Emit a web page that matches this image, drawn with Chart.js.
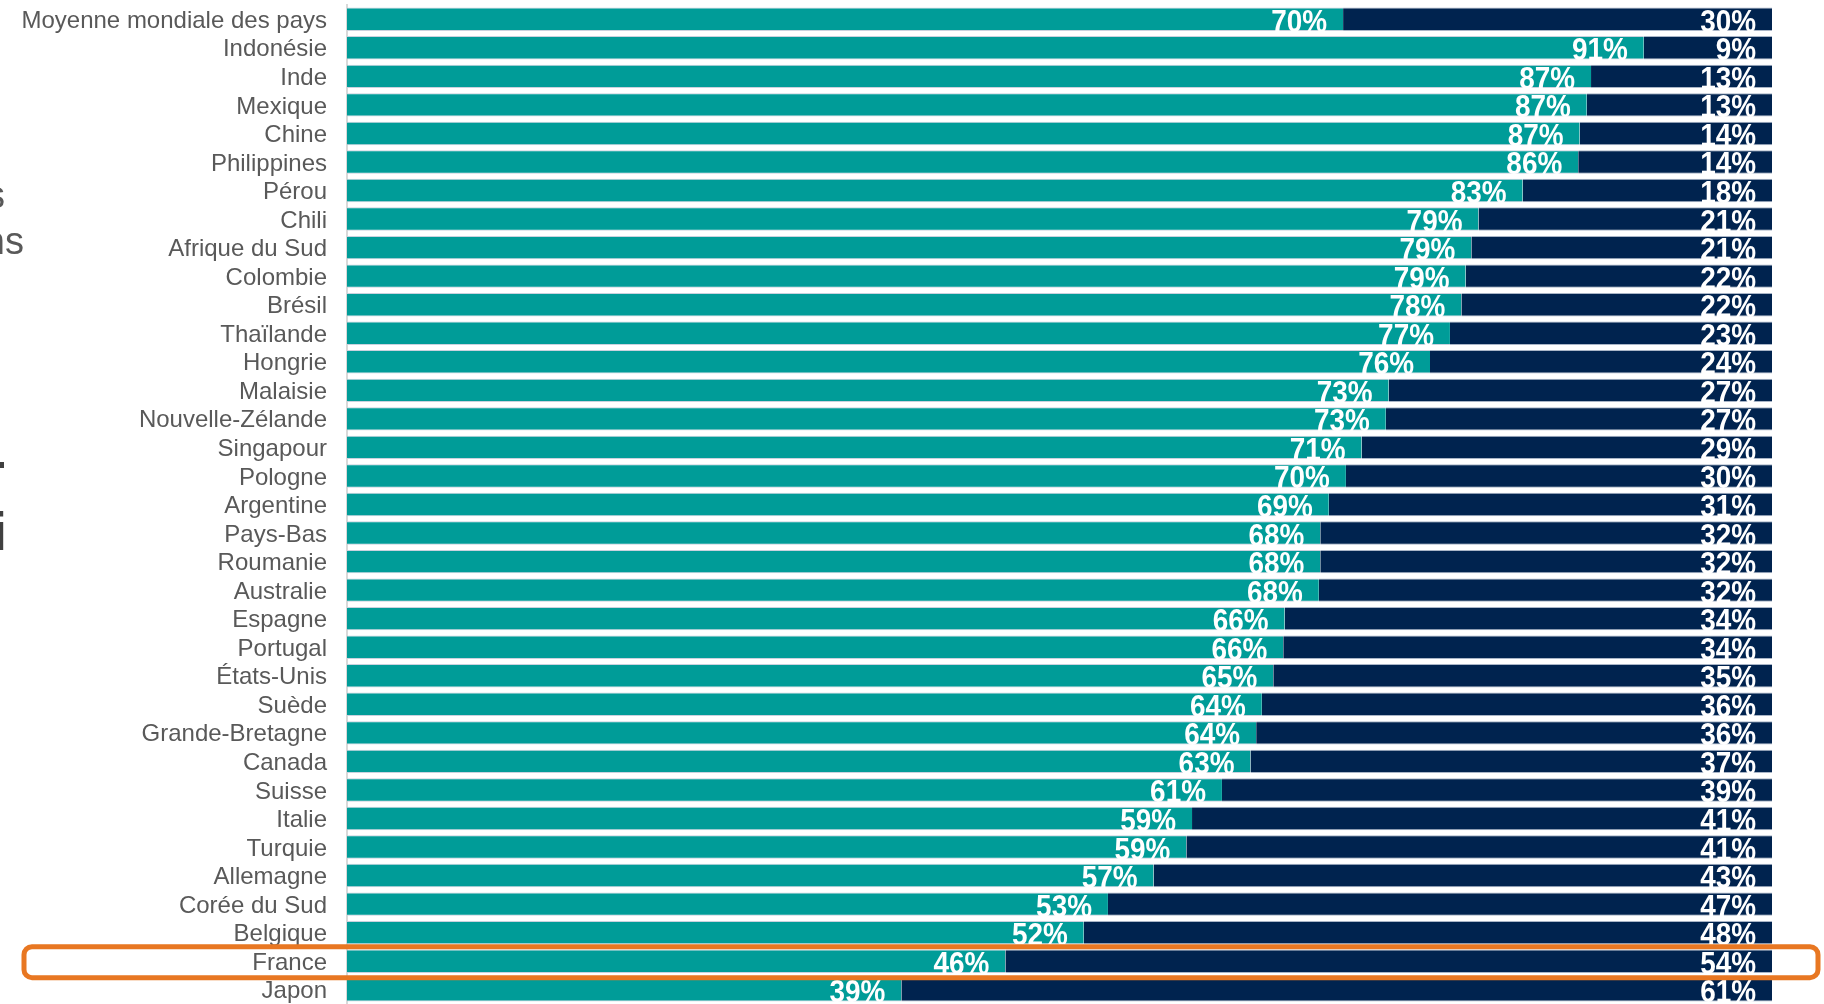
<!DOCTYPE html>
<html>
<head>
<meta charset="utf-8">
<script src="https://cdn.jsdelivr.net/npm/chart.js@4/dist/chart.umd.min.js"></script>
<style>
  html, body { margin: 0; padding: 0; background: #fff; }
  canvas { display: block; }
</style>
</head>
<body>
<canvas id="pays" width="1824" height="1004"></canvas>
<script>
var pays = ['Moyenne mondiale des pays', 'Indonésie', 'Inde', 'Mexique', 'Chine', 'Philippines', 'Pérou', 'Chili',
  'Afrique du Sud', 'Colombie', 'Brésil', 'Thaïlande', 'Hongrie', 'Malaisie', 'Nouvelle-Zélande', 'Singapour',
  'Pologne', 'Argentine', 'Pays-Bas', 'Roumanie', 'Australie', 'Espagne', 'Portugal', 'États-Unis', 'Suède',
  'Grande-Bretagne', 'Canada', 'Suisse', 'Italie', 'Turquie', 'Allemagne', 'Corée du Sud', 'Belgique', 'France', 'Japon']

// longueurs des barres
var oui = [69.9, 91.0, 87.3, 87.0, 86.5, 86.4, 82.5, 79.4, 78.9, 78.5, 78.2, 77.4, 76.0, 73.1, 72.9, 71.2,
  70.1, 68.9, 68.3, 68.3, 68.2, 65.8, 65.7, 65.0, 64.2, 63.8, 63.4, 61.4, 59.3, 58.9, 56.6, 53.4, 51.7, 46.2, 38.9]
var non = [30.1, 9.0, 12.7, 13.0, 13.5, 13.6, 17.5, 20.6, 21.1, 21.5, 21.8, 22.6, 24.0, 26.9, 27.1, 28.8,
  29.9, 31.1, 31.7, 31.7, 31.8, 34.2, 34.3, 35.0, 35.8, 36.2, 36.6, 38.6, 40.7, 41.1, 43.4, 46.6, 48.3, 53.8, 61.1]

// pourcentages affichés
var ouiLabels = [70, 91, 87, 87, 87, 86, 83, 79, 79, 79, 78, 77, 76, 73, 73, 71, 70, 69, 68, 68, 68, 66, 66, 65,
  64, 64, 63, 61, 59, 59, 57, 53, 52, 46, 39]
var nonLabels = [30, 9, 13, 13, 14, 14, 18, 21, 21, 22, 22, 23, 24, 27, 27, 29, 30, 31, 32, 32, 32, 34, 34, 35,
  36, 36, 37, 39, 41, 41, 43, 47, 48, 54, 61]

var highlight = 'France'

var valueLabels = {
  id: 'valueLabels',
  afterDatasetsDraw: function (chart) {
    var ctx = chart.ctx
    var texts = [ouiLabels, nonLabels]
    chart.data.datasets.forEach(function (ds, di) {
      chart.getDatasetMeta(di).data.forEach(function (bar, i) {
        ctx.save()
        ctx.translate(bar.x - 16, bar.y + 12.5)
        ctx.scale(0.9, 1)
        ctx.font = 'bold 31px "Liberation Sans", Arial, sans-serif'
        ctx.fillStyle = '#ffffff'
        ctx.textAlign = 'right'
        ctx.textBaseline = 'alphabetic'
        ctx.fillText(texts[di][i] + '%', 0, 0)
        ctx.restore()
      })
    })
  },
  afterDraw: function (chart) {
    var ctx = chart.ctx
    // cadre orange autour de la France
    var yc = chart.scales.y.getPixelForValue(pays.indexOf(highlight))
    ctx.save()
    ctx.strokeStyle = '#E87722'
    ctx.lineWidth = 5
    ctx.beginPath()
    ctx.roundRect(24, yc - 14.5, 1794, 31, 8)
    ctx.stroke()

    // bouts de texte coupés sur le bord gauche
    ctx.fillStyle = '#595959'
    ctx.font = '38px "Liberation Sans", Arial, sans-serif'
    ctx.textAlign = 'right'
    ctx.textBaseline = 'alphabetic'
    ctx.fillText('s', 5, 208)
    ctx.fillText('ns', 24, 254)
    ctx.fillStyle = '#404040'
    ctx.fillRect(0, 462, 4, 6)
    ctx.font = 'bold 54px "Liberation Sans", Arial, sans-serif'
    ctx.fillText('i', 7, 550)
    ctx.restore()
  }
}

var ctx = document.getElementById('pays').getContext('2d')
var chart = new Chart(ctx, {
  type: 'bar',
  data: {
    labels: pays,
    datasets: [{
      data: oui,
      backgroundColor: '#009C98',
      borderColor: '#c9d2de',
      borderWidth: {top: 1, bottom: 1, left: 0, right: 0},
      barPercentage: 0.82,
      categoryPercentage: 1
    }, {
      data: non,
      backgroundColor: '#00234F',
      borderColor: '#a9b5c7',
      borderWidth: {top: 1, bottom: 1, left: 0, right: 0},
      barPercentage: 0.82,
      categoryPercentage: 1
    }]
  },
  options: {
    indexAxis: 'y',
    responsive: false,
    devicePixelRatio: 1,
    animation: false,
    layout: {padding: {top: 5, right: 52, bottom: 0, left: 0}},
    plugins: {legend: {display: false}, tooltip: {enabled: false}},
    scales: {
      x: {stacked: true, min: 0, max: 100, display: false},
      y: {
        stacked: true,
        grid: {display: false, drawTicks: false},
        border: {display: true, color: '#d9d9d9', width: 2},
        ticks: {
          autoSkip: false,
          padding: 20,
          labelOffset: 2,
          color: '#595959',
          font: {family: '"Liberation Sans", Arial, sans-serif', size: 24}
        },
        afterFit: function (scale) {
          scale.width = 347
          scale.paddingTop = 0
          scale.paddingBottom = 0
        }
      }
    }
  },
  plugins: [valueLabels]
})
</script>
</body>
</html>
